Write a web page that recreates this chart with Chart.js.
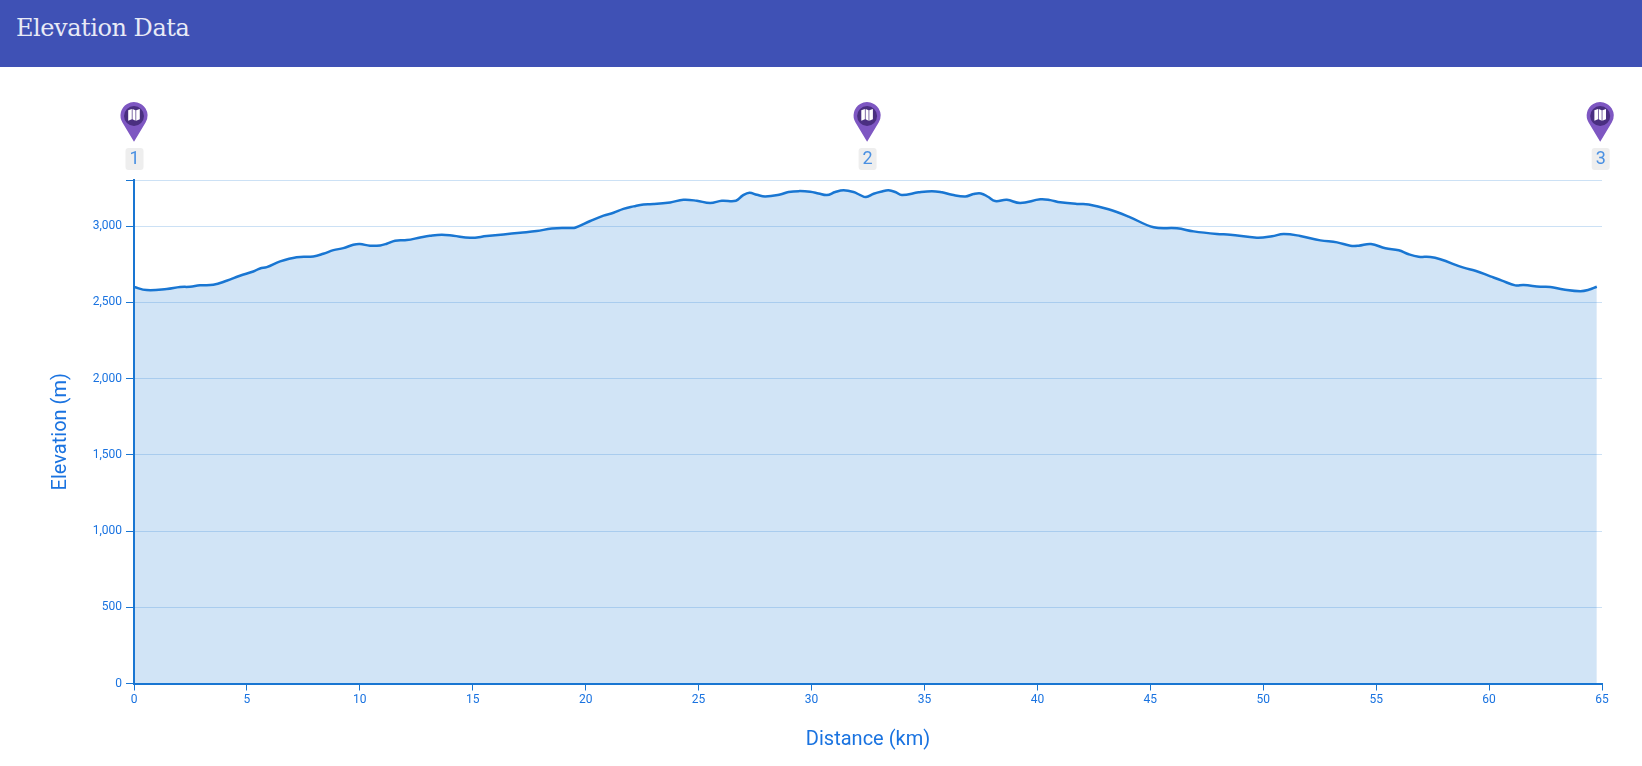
<!DOCTYPE html>
<html>
<head>
<meta charset="utf-8">
<title>Elevation Data</title>
<style>
html,body{margin:0;padding:0;background:#fff;width:1642px;height:766px;overflow:hidden}
#bar{position:absolute;left:0;top:0;width:1642px;height:67px;background:#3f51b5;color:#e8eaf6;font:24px "DejaVu Serif",serif;line-height:57px;padding-left:16px;box-sizing:border-box;letter-spacing:-.45px}
#c{position:absolute;left:0;top:0}
</style>
<script src="https://cdn.jsdelivr.net/npm/chart.js@4"></script>
</head>
<body>
<canvas id="c" width="1642" height="766"></canvas>
<div id="bar">Elevation Data</div>
<script>
const distanceKm = [0,.56,1.45,2.04,2.48,2.92,3.51,4.1,4.69,5.28,5.58,5.88,6.47,7.2,7.94,8.38,8.83,9.27,9.71,10,10.45,10.9,11.19,11.56,12.08,12.67,13.1,13.63,14.14,14.88,15.62,16.36,17.1,17.83,18.5,19.3,19.53,20.2,20.79,21.23,21.67,22.12,22.56,23,23.74,24.33,24.92,25.51,26.03,26.65,26.96,27.25,27.58,27.95,28.61,28.98,29.43,29.94,30.31,30.68,31.05,31.42,31.86,32.16,32.41,32.75,33.12,33.41,33.71,34,34.74,35.33,35.77,36.22,36.81,37.17,37.5,37.81,38.13,38.65,39.24,40.13,40.57,41.01,41.75,42.27,43.15,44.04,45.15,46.18,46.92,47.95,48.54,49.72,50.39,50.9,51.64,52.53,53.27,53.86,54.22,54.77,55.41,56,56.44,56.88,57.4,57.84,58.87,59.39,60.06,60.57,61.16,61.53,62.27,62.71,63.3,64.04,64.41,64.77];
const elevationM = [2600,2580,2587,2600,2602,2611,2615,2641,2674,2702,2722,2731,2768,2796,2801,2818,2842,2855,2877,2882,2871,2873,2884,2904,2908,2925,2936,2943,2936,2923,2934,2945,2956,2967,2984,2987,2989,3033,3068,3087,3113,3129,3142,3144,3155,3172,3166,3151,3166,3166,3201,3218,3205,3194,3207,3223,3229,3225,3214,3203,3223,3234,3223,3203,3190,3212,3227,3234,3223,3203,3221,3229,3221,3205,3194,3210,3214,3192,3164,3172,3151,3175,3170,3156,3145,3142,3110,3062,2992,2985,2965,2948,2943,2924,2933,2948,2935,2906,2893,2871,2871,2882,2854,2841,2815,2799,2797,2782,2727,2707,2670,2642,2611,2613,2602,2600,2584,2573,2582,2602];
const xTickValues = [0,5,10,15,20,25,30,35,40,45,50,55,60,65];
const yTickValues = [0,500,1000,1500,2000,2500,3000,3302];
const yLabelledTicks = [0,500,1000,1500,2000,2500,3000];
const markerKm = [0,32.46,64.92];
const markerLabels = ['1','2','3'];

const BLUE = '#1976d2';
const TEXT_BLUE = '#1a73e0';

const pinPlugin = {
  id:'pins',
  afterDraw(chart){
    const g = chart.ctx, sx = chart.scales.x;
    markerKm.forEach((km,i)=>{
      const cx = sx.getPixelForValue(km), cy = 115.5, r = 13.5, tip = 141.7;
      const d = tip-cy, a = Math.asin(r/d);
      g.save();
      g.fillStyle = '#7e57c2';
      g.beginPath();
      g.moveTo(cx,tip);
      g.arc(cx,cy,r,Math.PI-a,a,false);
      g.closePath();
      g.fill();
      g.fillStyle = '#4a2f80';
      g.beginPath(); g.arc(cx,cy+0.5,10,0,Math.PI*2); g.fill();
      g.fillStyle = '#fff';
      const pts = [[-5.8,-5.2,-2.2,-6.4,-2.2,3.8,-5.8,5.2],[-1.5,-6.4,1.5,-5.2,1.5,5.2,-1.5,3.8],[2.2,-5.2,5.8,-6.4,5.8,3.8,2.2,5.2]];
      pts.forEach(p=>{
        g.beginPath();
        g.moveTo(cx+p[0],cy+p[1]); g.lineTo(cx+p[2],cy+p[3]);
        g.lineTo(cx+p[4],cy+p[5]); g.lineTo(cx+p[6],cy+p[7]);
        g.closePath(); g.fill();
      });
      g.fillStyle = '#eeeeee';
      g.beginPath(); g.roundRect(cx-8.5,148,18,22,3); g.fill();
      g.fillStyle = '#4a90e2';
      g.font = '18px Roboto';
      g.textAlign = 'center'; g.textBaseline = 'middle';
      g.fillText(markerLabels[i],cx+0.5,159.5);
      g.restore();
    });
  }
};

new Chart(document.getElementById('c'),{
  type:'line',
  data:{datasets:[{
    data:distanceKm.map((x,i)=>({x,y:elevationM[i]})),
    borderColor:BLUE,
    borderWidth:2.5,
    backgroundColor:'rgba(25,118,210,0.2)',
    fill:'origin',
    pointRadius:0,
    tension:0.4
  }]},
  options:{
    responsive:false,
    animation:false,
    layout:{padding:{top:180,right:40,left:0,bottom:0}},
    plugins:{legend:{display:false},tooltip:{enabled:false}},
    scales:{
      x:{
        type:'linear',min:0,max:65,
        afterFit(s){s.height=82.5;},
        afterBuildTicks(s){s.ticks=xTickValues.map(value=>({value}));},
        border:{color:BLUE,width:2},
        grid:{drawOnChartArea:false,color:BLUE,tickColor:BLUE,tickLength:7},
        ticks:{color:TEXT_BLUE,font:{family:'Roboto',size:12},maxRotation:0,autoSkip:false,padding:2},
        title:{display:true,text:'Distance (km)',color:TEXT_BLUE,font:{family:'Roboto',size:20},padding:{top:14,bottom:14}}
      },
      y:{
        type:'linear',min:0,max:3302,
        afterFit(s){s.width=134;},
        afterBuildTicks(s){s.ticks=yTickValues.map(value=>({value}));},
        border:{color:BLUE,width:2},
        grid:{color:'rgba(25,118,210,0.22)',tickColor:BLUE,tickLength:8,lineWidth:1},
        ticks:{color:TEXT_BLUE,font:{family:'Roboto',size:12},padding:4,autoSkip:false,
          callback:v=>yLabelledTicks.includes(v)?v.toLocaleString('en-US'):''},
        title:{display:true,text:'Elevation (m)',color:TEXT_BLUE,font:{family:'Roboto',size:20},padding:{top:49,bottom:12}}
      }
    }
  },
  plugins:[pinPlugin]
});
</script>
</body>
</html>
